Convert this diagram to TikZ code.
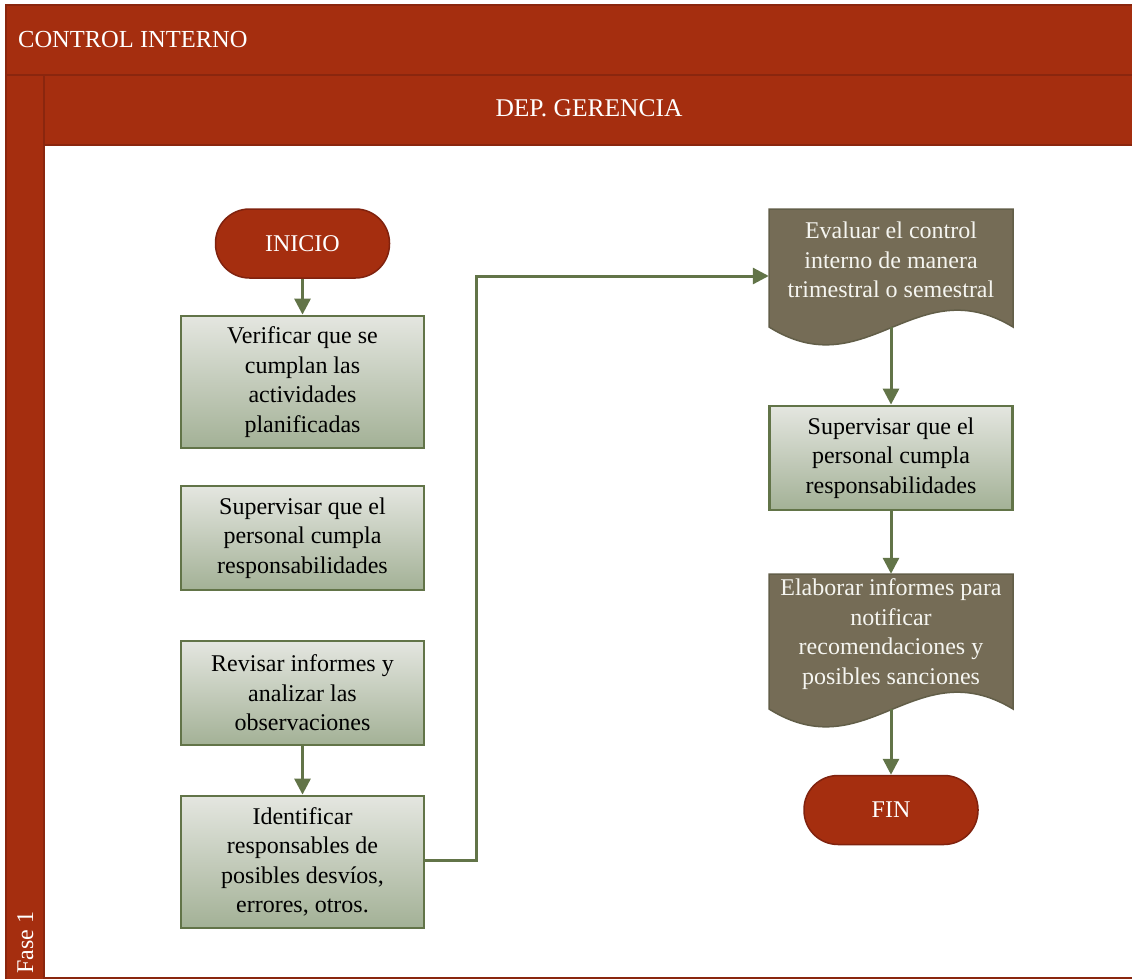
\documentclass[tikz,border=0pt]{standalone}
\usepackage{fontspec}
\setmainfont{Liberation Serif}
\usetikzlibrary{arrows.meta,calc}
\definecolor{lanered}{RGB}{165,46,15}
\definecolor{lanedark}{RGB}{138,38,14}
\definecolor{termborder}{RGB}{128,34,14}
\definecolor{flowgreen}{RGB}{98,116,72}
\definecolor{boxtop}{RGB}{228,230,224}
\definecolor{boxbottom}{RGB}{163,177,150}
\definecolor{docfill}{RGB}{117,108,86}
\definecolor{docborder}{RGB}{98,94,72}
\definecolor{doctext}{RGB}{245,245,240}
\tikzset{
  bigtext/.style={font=\fontsize{24}{29.5}\selectfont},
  lanebox/.style={fill=lanered, draw=lanedark, line width=1.5pt},
  terminal/.style={bigtext, fill=lanered, draw=termborder, line width=1.5pt,
    minimum width=174pt, minimum height=69pt, rounded corners=34pt,
    text=white, inner sep=0pt},
  procbox/.style={bigtext, top color=boxtop, bottom color=boxbottom,
    draw=flowgreen, line width=2.8pt, minimum width=243pt,
    align=center, inner sep=0pt},
  docbox/.style={minimum width=244pt, inner sep=0pt},
  docshape/.style={fill=docfill, draw=docborder, line width=1.5pt},
  doclabel/.style={bigtext, text=doctext, align=center, inner sep=0pt},
  flow/.style={draw=flowgreen, line width=3pt,
    -{Triangle[length=16pt,width=16pt]}},
}
\begin{document}
\begin{tikzpicture}[x=1pt,y=-1pt]
\useasboundingbox (0,0) rectangle (1132,979);
% lanes
\draw[lanebox] (6,5) rectangle (1136,75);
\draw[lanebox] (6,75) rectangle (44,983);
\draw[lanebox] (44,75) rectangle (1136,145);
\draw[lanedark, line width=2pt] (44,977.5) -- (1136,977.5);
\node[font=\fontsize{24.5}{29}\selectfont, text=white, anchor=base west, inner sep=0pt] (pool) at (18,48) {CONTROL INTERNO};
\node[font=\fontsize{25.5}{30}\selectfont, text=white, anchor=base, inner sep=0pt] (dep) at (589,117) {DEP. GERENCIA};
\node[font=\fontsize{24}{28}\selectfont, text=white, anchor=base west, rotate=90, inner sep=0pt] (fase) at (33,974) {Fase 1};
% documents shapes
\draw[docshape] (769,209) -- (1013,209) -- (1013,327)
  .. controls (915.4,268) and (866.6,388) .. (769,327) -- cycle;
\draw[docshape] (769,574) -- (1013,574) -- (1013,709)
  .. controls (915.4,650) and (866.6,770) .. (769,709) -- cycle;
% nodes
\node[terminal] (inicio) at (302.5,243.5) {INICIO};
\node[procbox, minimum height=132pt] (b1) at (302.5,382) {Verificar que se\\cumplan las\\actividades\\planificadas};
\node[procbox, minimum height=104pt] (b2) at (302.5,538) {Supervisar que el\\personal cumpla\\responsabilidades};
\node[procbox, minimum height=104pt] (b3) at (302.5,693) {Revisar informes y\\analizar las\\observaciones};
\node[procbox, minimum height=132pt] (b4) at (302.5,862) {Identificar\\responsables de\\posibles desvíos,\\errores, otros.};
\node[docbox, minimum height=118pt] (d1) at (891,268) {};
\node[doclabel] (d1t) at (891,260) {Evaluar el control\\interno de manera\\trimestral o semestral};
\node[procbox, minimum height=104pt] (b5) at (891,458) {Supervisar que el\\personal cumpla\\responsabilidades};
\node[docbox, minimum height=135pt] (d2) at (891,641.5) {};
\node[doclabel] (d2t) at (891,634) {Elaborar informes para\\notificar\\recomendaciones y\\posibles sanciones};
\node[terminal] (fin) at (891,810) {FIN};
\coordinate (elbow) at (476,860);
% connectors
\draw[flow] (inicio.south) -- (b1.north);
\draw[flow] (b3.south) -- (b4.north);
\draw[flow] (b4.east |- elbow) -- (elbow) |- ([yshift=-8pt]d1.west);
\draw[flow] (d1.south) -- (b5.north);
\draw[flow] (b5.south) -- (d2.north);
\draw[flow] (d2.south) -- (fin.north);
\end{tikzpicture}
\end{document}
